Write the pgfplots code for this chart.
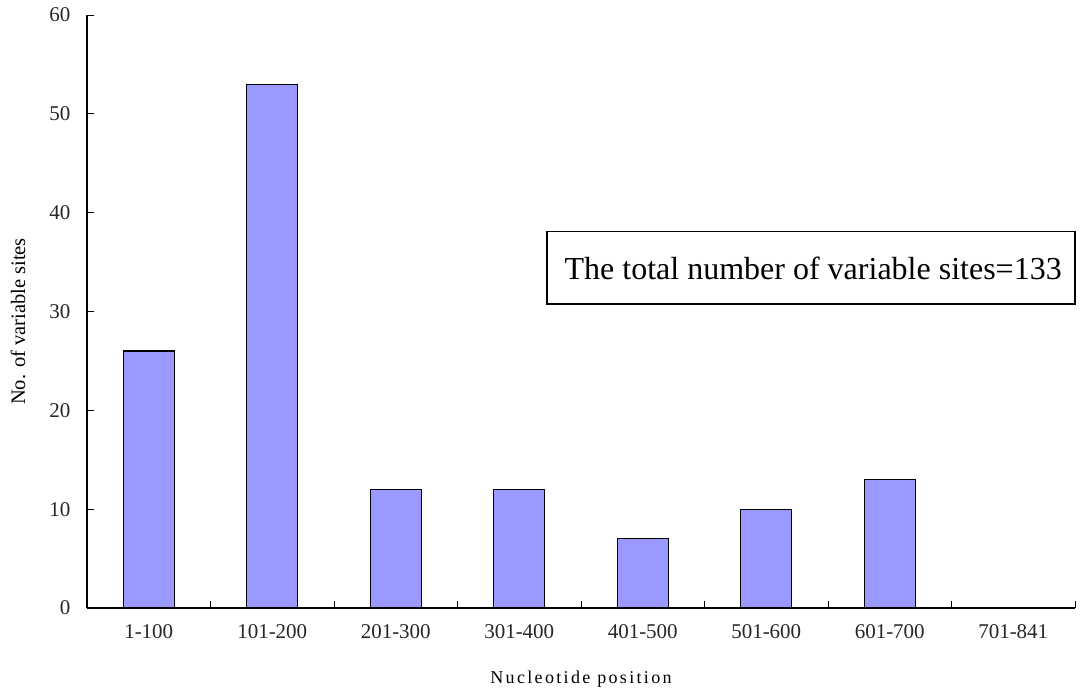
\documentclass[border=0pt]{standalone}
\usepackage{fontspec}
\setmainfont{Liberation Serif}
\usepackage{pgfplots}
\pgfplotsset{compat=1.18}
\definecolor{barblue}{HTML}{9999FF}
\begin{document}
\begin{tikzpicture}[x=1pt,y=1pt]
\useasboundingbox (-87,-84) rectangle (1004,608);
\begin{axis}[
  at={(0,0)}, anchor=south west,
  scale only axis,
  width=988pt, height=593pt,
  xmin=-0.5, xmax=7.5, ymin=0, ymax=60,
  axis x line*=bottom, axis y line*=left,
  axis line style={line width=1.1pt},
  tick align=inside,
  ytick={0,10,...,60},
  xtick={0,...,7},
  xticklabels={1-100,101-200,201-300,301-400,401-500,501-600,601-700,701-841},
  minor xtick={-0.5,0.5,...,7.5},
  major x tick style={draw=none},
  minor x tick style={line width=0.9pt, black},
  minor tick length=7pt,
  major tick length=7pt,
  y tick style={line width=0.9pt, black},
  tick label style={font=\fontsize{21}{24}\selectfont, text=black!85},
  /pgf/number format/assume math mode=true,
  yticklabel style={xshift=-13pt},
  xticklabel style={yshift=-13pt},
  ylabel={\fontsize{20.5}{22}\selectfont No. of variable sites},
  ylabel style={at={(axis description cs:0,0.5)}, anchor=center, yshift=69pt, xshift=-10pt},
  xlabel={\fontsize{18}{20}\selectfont\addfontfeatures{LetterSpace=13}Nucleotide position},
  xlabel style={at={(axis description cs:0.5,0)}, anchor=center, yshift=-71pt},
  clip=false,
]
\addplot[ybar, bar width=51pt, fill=barblue, draw=black, line width=1.1pt]
  coordinates {(0,26) (1,53) (2,12) (3,12) (4,7) (5,10) (6,13) (7,0)};
\draw[line width=1.1pt, fill=white] (axis cs:3.225,30.76) rectangle (axis cs:7.5,38.05);
\node[font=\fontsize{32}{36}\selectfont, anchor=center] at (axis cs:5.38,34.4) {The total number of variable sites=133};
\end{axis}
\end{tikzpicture}
\end{document}
